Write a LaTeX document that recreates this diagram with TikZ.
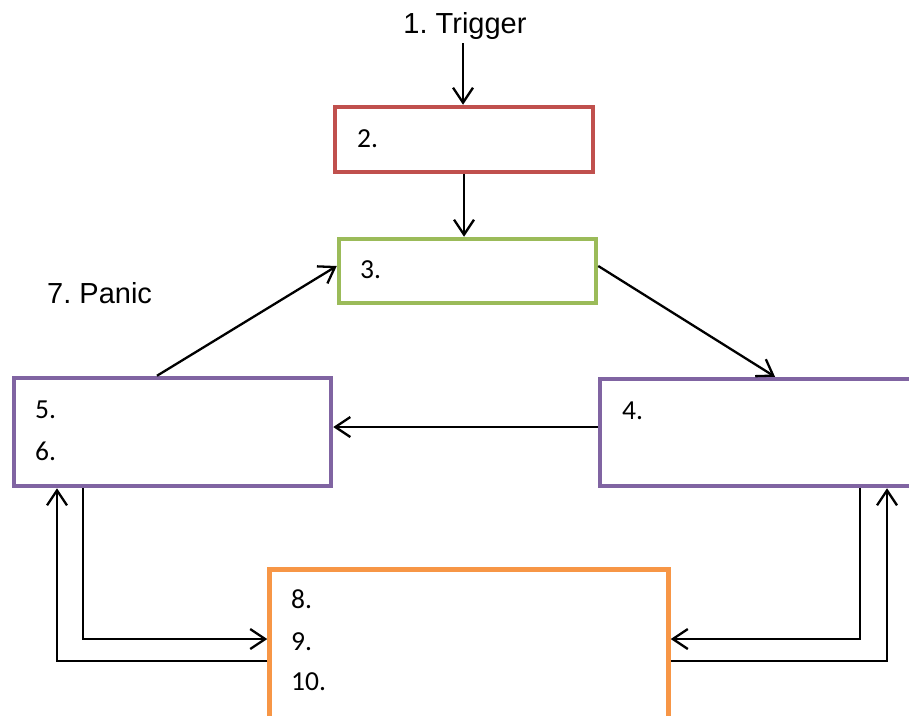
\documentclass[tikz,border=0pt]{standalone}
\usepackage{fontspec}
\setmainfont{Liberation Sans}
\newfontfamily\boxfont{Carlito}
\usetikzlibrary{arrows.meta,calc}
\definecolor{boxred}{HTML}{C0504D}
\definecolor{boxgreen}{HTML}{9BBB59}
\definecolor{boxpurple}{HTML}{8064A2}
\definecolor{boxorange}{HTML}{F79646}
\frenchspacing
\begin{document}
\begin{tikzpicture}[x=1pt,y=-1pt,
  stage/.style={draw, line width=4.5pt, rectangle, inner sep=0pt, fill=white},
  arr/.style={line width=2.3pt, -{Straight Barb[length=15pt,width=20pt,line width=2.3pt]}},
  num/.style={anchor=base west, inner sep=0pt, font=\boxfont\fontsize{27.5}{31}\selectfont},
  lbl/.style={inner sep=0pt, font=\fontsize{29}{34}\selectfont}]
\useasboundingbox (0,0) rectangle (909,715);
\clip (0,0) rectangle (909,715);

% stages
\node[stage, draw=boxred,    minimum width=258, minimum height=65]  (b2) at (464,139.5) {};
\node[stage, draw=boxgreen,  minimum width=257, minimum height=64]  (b3) at (467.5,271) {};
\node[stage, draw=boxpurple, minimum width=315, minimum height=107] (b4) at (757.5,432.5) {};
\node[stage, draw=boxpurple, minimum width=317, minimum height=108] (b5) at (172.5,432) {};
\node[stage, draw=boxorange, minimum width=399, minimum height=171] (b8) at (469,655) {};

% numbers inside the stages
\node[num] (n2) at (357,147) {2.};
\node[num] (n3) at (360,278) {3.};
\node[num] (n4) at (622,419) {4.};
\node[num] (n5) at (35,418) {5.};
\node[num] (n6) at (35,460) {6.};
\node[num] (n8) at (291,608) {8.};
\node[num] (n9) at (291,650) {9.};
\node[num] (n10) at (291,690) {10.};

% free labels
\node[lbl, anchor=base] (trig) at (465,33) {1. Trigger};
\node[lbl, anchor=base west] (panic) at (47,303) {7. Panic};

% main cycle
\draw[arr] (463,43) -- (463,0 |- b2.north);
\draw[arr] (b2.south) -- (b2.south |- b3.north);
\draw[arr] (b3.east |- 0,266) -- (775,0 |- b4.north);
\draw[arr] (b4.west |- 0,427) -- (b5.east |- 0,427);
\draw[arr] (157,0 |- b5.north) -- (b3.west |- 0,266);

% loops to and from the bottom stage
\draw[arr] (83,0 |- b5.south) |- (b8.west |- 0,639);
\draw[arr] (b8.west |- 0,661) -| (57,0 |- b5.south);
\draw[arr] (860,0 |- b4.south) |- (b8.east |- 0,639);
\draw[arr] (b8.east |- 0,661) -| (887,0 |- b4.south);
\end{tikzpicture}
\end{document}
